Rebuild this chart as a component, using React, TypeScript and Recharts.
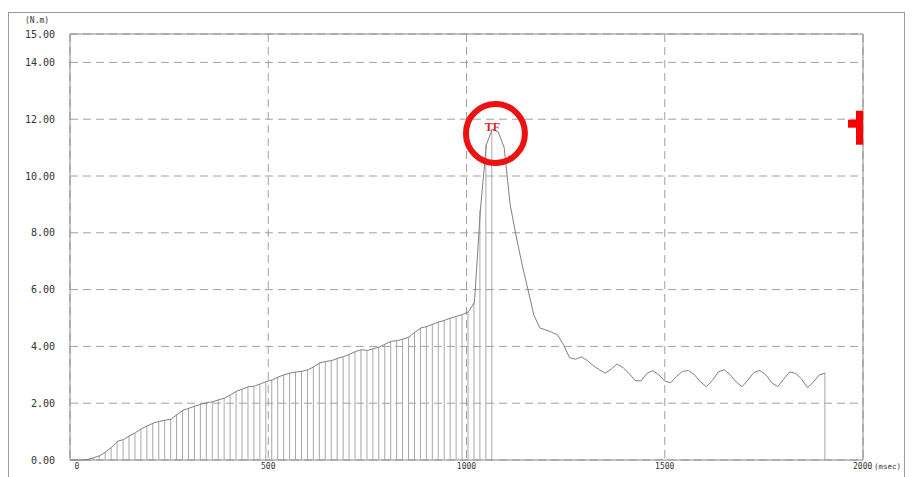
import {
  ComposedChart,
  Line,
  Bar,
  XAxis,
  YAxis,
  CartesianGrid,
  ReferenceArea,
  ReferenceDot,
} from "recharts";

// torque samples (N.m), one every SAMPLE_MS from 0 msec
const SAMPLE_MS = 15;
const torque = [
  0, 0, 0, 0.02, 0.08, 0.15, 0.28, 0.45,
  0.66, 0.72, 0.85, 0.96, 1.1, 1.2, 1.3, 1.36,
  1.4, 1.44, 1.6, 1.75, 1.82, 1.9, 1.96, 2.02,
  2.05, 2.12, 2.18, 2.3, 2.42, 2.5, 2.58, 2.6,
  2.68, 2.76, 2.82, 2.92, 3.0, 3.06, 3.1, 3.12,
  3.18, 3.28, 3.42, 3.47, 3.5, 3.58, 3.64, 3.72,
  3.82, 3.88, 3.86, 3.92, 3.98, 4.08, 4.18, 4.2,
  4.26, 4.33, 4.5, 4.65, 4.7, 4.78, 4.86, 4.92,
  5.0, 5.06, 5.12, 5.22, 5.55, 8.8, 11.1, 11.65,
  11.55, 11.0, 9.0, 7.9, 6.9, 6.0, 5.1, 4.65,
  4.58, 4.5, 4.4, 4.05, 3.6, 3.55, 3.63, 3.5,
  3.32, 3.18, 3.06, 3.2, 3.38, 3.25, 3.05, 2.8,
  2.78, 3.05, 3.15, 3.0, 2.78, 2.72, 2.95, 3.12,
  3.15, 3.0, 2.75, 2.58, 2.8, 3.1, 3.18, 3.0,
  2.75, 2.58, 2.82, 3.08, 3.15, 3.0, 2.72, 2.58,
  2.85, 3.1, 3.05, 2.85, 2.55, 2.75, 3.0, 3.06,
];
// sample lines are drawn up to this time (and at the last sample)
const STEM_END_MS = 1065;

const xTicks = [0, 500, 1000, 1500, 2000];
const yTicks = [0, 2, 4, 6, 8, 10, 12, 14, 15];
const TF_MARK = { t: 1073, v: 11.5 };
const TARGET_TORQUE = 12;

const data = torque.map((v, i) => {
  const t = i * SAMPLE_MS;
  const isStem = t <= STEM_END_MS || i === torque.length - 1;
  return { t, v, stem: isStem ? v : null };
});

const MONO = "'DejaVu Sans Mono', monospace";

function XTick({ x, y, payload }: any) {
  const val = payload.value;
  if (val === 2000) {
    return (
      <text y={y} dy="0.71em" fontSize={8} fontFamily={MONO} fill="#333">
        <tspan x={x - 10}>2000</tspan>
        <tspan x={x + 11} fontSize={7.5}>(msec)</tspan>
      </text>
    );
  }
  return (
    <text
      x={val === 0 ? x + 7 : x}
      y={y}
      dy="0.71em"
      textAnchor="middle"
      fontSize={8}
      fontFamily={MONO}
      fill="#333"
    >
      {val}
    </text>
  );
}

function TfCircle({ cx, cy }: any) {
  return (
    <g>
      <circle cx={cx} cy={cy} r={29.5} fill="none" stroke="#ee1111" strokeWidth={6} />
      <text
        x={cx - 3}
        y={cy - 5}
        textAnchor="middle"
        dominantBaseline="middle"
        fontSize={12}
        fontWeight="bold"
        fontFamily="'Liberation Serif', serif"
        fill="#e01e1e"
      >
        TF
      </text>
    </g>
  );
}

function TargetMark({ cx, cy }: any) {
  return (
    <g fill="#ff0000">
      <rect x={cx - 7} y={cy - 8.5} width={7} height={34} />
      <rect x={cx - 15} y={cy + 0.5} width={8} height={8} />
    </g>
  );
}

export default function App() {
  return (
    <div style={{ position: "relative", width: 898, height: 469, background: "#fff" }}>
      <div
        style={{
          position: "absolute",
          left: 0,
          top: 4,
          width: 897,
          height: 480,
          border: "1px solid #999",
          boxSizing: "border-box",
        }}
      />
      <span
        style={{
          position: "absolute",
          left: 17,
          top: 8,
          fontSize: 8,
          fontFamily: MONO,
          color: "#333",
        }}
      >
        (N.m)
      </span>
      <ComposedChart
        width={898}
        height={469}
        data={data}
        margin={{ top: 26, right: 43, left: 0, bottom: 0 }}
        style={{ position: "absolute", left: 0, top: 0 }}
      >
        <CartesianGrid stroke="#a0a0a0" strokeDasharray="8 5" />
        <XAxis
          type="number"
          dataKey="t"
          domain={[0, 2000]}
          ticks={xTicks}
          allowDataOverflow
          axisLine={false}
          tickLine={false}
          tickSize={0}
          tickMargin={3}
          height={17}
          tick={<XTick />}
        />
        <YAxis
          type="number"
          domain={[0, 15]}
          ticks={yTicks}
          width={62}
          axisLine={false}
          tickLine={false}
          tickSize={0}
          tickMargin={15}
          tickFormatter={(v: number) => v.toFixed(2)}
          tick={{ fontSize: 10, fontFamily: MONO, fill: "#333" }}
        />
        <Bar dataKey="stem" barSize={1} fill="#a8a8a8" isAnimationActive={false} />
        <Line
          type="linear"
          dataKey="v"
          stroke="#808080"
          strokeWidth={1}
          dot={false}
          isAnimationActive={false}
        />
        <ReferenceArea x1={0} x2={2000} y1={0} y2={15} fill="none" stroke="#8a8a8a" strokeWidth={1} />
        <ReferenceDot x={TF_MARK.t} y={TF_MARK.v} shape={<TfCircle />} ifOverflow="visible" />
        <ReferenceDot x={2000} y={TARGET_TORQUE} shape={<TargetMark />} ifOverflow="visible" />
      </ComposedChart>
    </div>
  );
}
